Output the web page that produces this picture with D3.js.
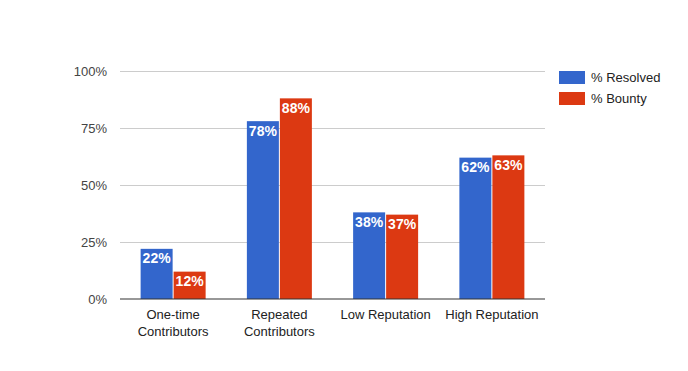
<!DOCTYPE html>
<html><head><meta charset="utf-8">
<script src="https://cdn.jsdelivr.net/npm/d3@7"></script>
<style>body{margin:0;background:#fff}svg{display:block;font-family:"Liberation Sans",Arial,sans-serif}</style>
</head><body><svg id="c" width="688" height="371"></svg>
<script>
const categories = [["One-time","Contributors"],["Repeated","Contributors"],["Low Reputation"],["High Reputation"]];
const seriesNames = ["% Resolved","% Bounty"];
const resolved = [22,78,38,62];
const bounty = [12,88,37,63];
const yTicks = [0,25,50,75,100];
const colors = ["#3366cc","#dc3912"];

const svg = d3.select("#c");
const pL=120, pR=545, pT=71, pB=299;
const x = d3.scaleBand().domain(d3.range(categories.length)).range([pL,pR]);
const y = d3.scaleLinear().domain([0,100]).range([pB,pT]);
const groupW = 65;
const x1 = d3.scaleBand().domain([0,1]).range([0,groupW]).paddingInner(0.03);

// gridlines
svg.append("g").selectAll("line").data(yTicks.filter(t=>t>0)).join("line")
  .attr("x1",pL).attr("x2",pR).attr("y1",d=>Math.round(y(d))+0.5).attr("y2",d=>Math.round(y(d))+0.5)
  .attr("stroke","#cccccc").attr("stroke-width",1);

// y labels
svg.append("g").selectAll("text").data(yTicks).join("text")
  .attr("x",107).attr("y",d=>y(d)+4.5).attr("text-anchor","end")
  .attr("font-size",13).attr("fill","#444").text(d=>d+"%");

const data = [resolved,bounty];
const g = svg.append("g");
data.forEach((vals,s)=>{
  vals.forEach((v,i)=>{
    const bx = x(i)+x.bandwidth()/2-groupW/2+x1(s);
    g.append("rect").attr("x",bx).attr("y",y(v)).attr("width",x1.bandwidth()).attr("height",y(0)-y(v))
      .attr("fill",colors[s]);
    g.append("text").attr("x",bx+x1.bandwidth()/2).attr("y",y(v)+14.5).attr("text-anchor","middle")
      .attr("font-size",14).attr("font-weight","bold").attr("fill","#fff").text(v+"%");
  });
});

// baseline
svg.append("line").attr("x1",pL).attr("x2",pR).attr("y1",y(0)).attr("y2",y(0))
  .attr("stroke","#333").attr("stroke-width",1.2);

// x labels
categories.forEach((lines,i)=>{
  const t = svg.append("text").attr("x",x(i)+x.bandwidth()/2).attr("text-anchor","middle")
    .attr("font-size",13).attr("fill","#222");
  lines.forEach((l,j)=>t.append("tspan").attr("x",x(i)+x.bandwidth()/2).attr("y",319+j*17).text(l));
});

// legend
seriesNames.forEach((n,s)=>{
  svg.append("rect").attr("x",559).attr("y",71+s*21).attr("width",26).attr("height",13).attr("fill",colors[s]);
  svg.append("text").attr("x",591).attr("y",82+s*21).attr("font-size",13).attr("fill","#222").text(n);
});
</script></body></html>
